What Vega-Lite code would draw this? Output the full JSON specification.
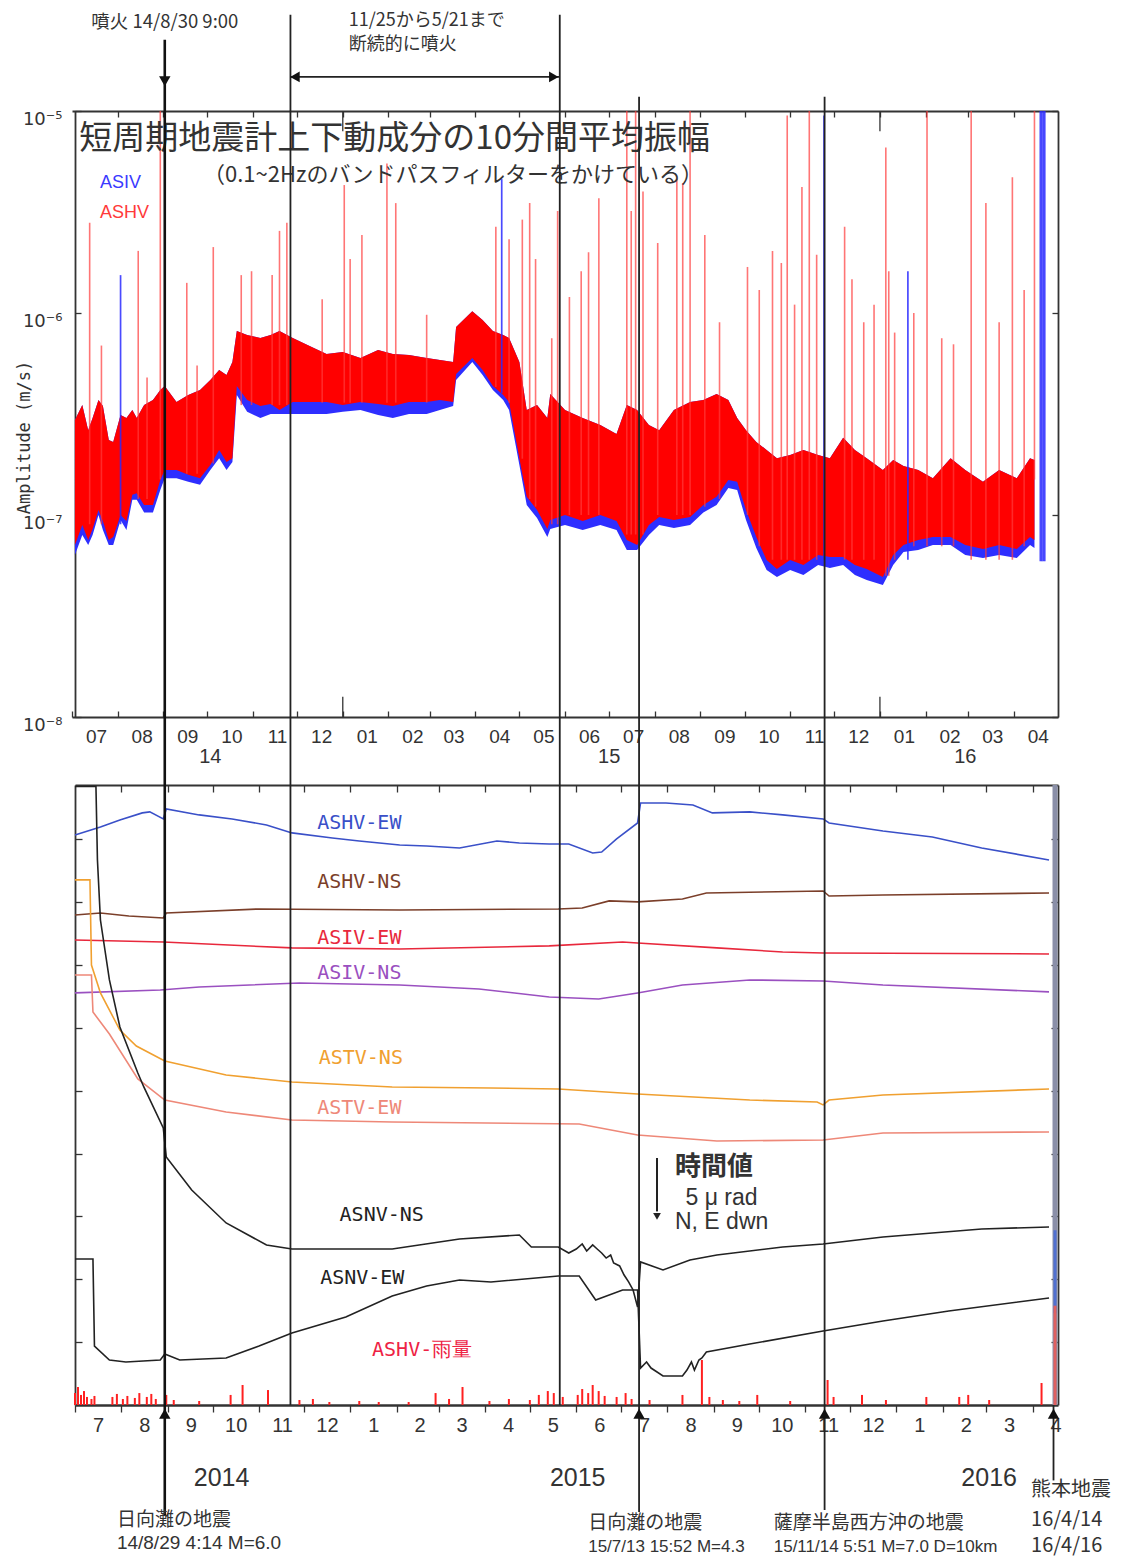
{
"$schema": "https://vega.github.io/schema/vega-lite/v6.json",
"width": 1134, "height": 1561,
"autosize": {"type": "none"},
"padding": 0,
"background": "white",
"config": {
  "view": {"stroke": null},
  "axis": {"grid": false, "labelFlush": false, "labelOverlap": false, "labelBound": false, "domainColor": "#333333", "tickColor": "#333333", "labelColor": "#333333", "domainWidth": 1.8, "tickWidth": 1.3, "zindex": 1}
},
"datasets": {
  "band": [
{"d":"2014-07-03","rhi":2.95e-7,"rlo":7.1e-8,"blo":6.34e-8},
{"d":"2014-07-08","rhi":3.5e-7,"rlo":8.92e-8,"blo":7.96e-8},
{"d":"2014-07-12","rhi":2.63e-7,"rlo":7.52e-8,"blo":7.1e-8},
{"d":"2014-07-15","rhi":3.02e-7,"rlo":8.53e-8,"blo":7.96e-8},
{"d":"2014-07-19","rhi":3.71e-7,"rlo":1.06e-7,"blo":1.0e-7},
{"d":"2014-07-22","rhi":3.46e-7,"rlo":9.34e-8,"blo":8.43e-8},
{"d":"2014-07-26","rhi":2.35e-7,"rlo":7.52e-8,"blo":7.1e-8},
{"d":"2014-07-29","rhi":2.3e-7,"rlo":7.78e-8,"blo":7.1e-8},
{"d":"2014-08-03","rhi":3.13e-7,"rlo":1.0e-7,"blo":9.45e-8},
{"d":"2014-08-07","rhi":3.02e-7,"rlo":9.34e-8,"blo":8.43e-8},
{"d":"2014-08-11","rhi":3.31e-7,"rlo":1.26e-7,"blo":1.19e-7},
{"d":"2014-08-14","rhi":3.02e-7,"rlo":1.28e-7,"blo":1.19e-7},
{"d":"2014-08-19","rhi":3.5e-7,"rlo":1.12e-7,"blo":1.03e-7},
{"d":"2014-08-25","rhi":3.71e-7,"rlo":1.12e-7,"blo":1.03e-7},
{"d":"2014-08-30","rhi":4.16e-7,"rlo":1.49e-7,"blo":1.33e-7},
{"d":"2014-09-02","rhi":4.35e-7,"rlo":1.67e-7,"blo":1.52e-7},
{"d":"2014-09-10","rhi":3.63e-7,"rlo":1.67e-7,"blo":1.52e-7},
{"d":"2014-09-18","rhi":3.93e-7,"rlo":1.58e-7,"blo":1.46e-7},
{"d":"2014-09-26","rhi":4.16e-7,"rlo":1.52e-7,"blo":1.41e-7},
{"d":"2014-10-03","rhi":4.66e-7,"rlo":1.77e-7,"blo":1.67e-7},
{"d":"2014-10-09","rhi":5.22e-7,"rlo":2.1e-7,"blo":1.91e-7},
{"d":"2014-10-14","rhi":4.93e-7,"rlo":1.83e-7,"blo":1.67e-7},
{"d":"2014-10-18","rhi":5.72e-7,"rlo":1.91e-7,"blo":1.83e-7},
{"d":"2014-10-21","rhi":8.14e-7,"rlo":4.35e-7,"blo":3.93e-7},
{"d":"2014-10-28","rhi":7.78e-7,"rlo":3.71e-7,"blo":3.24e-7},
{"d":"2014-11-06","rhi":7.52e-7,"rlo":3.46e-7,"blo":3.02e-7},
{"d":"2014-11-13","rhi":7.78e-7,"rlo":3.54e-7,"blo":3.16e-7},
{"d":"2014-11-19","rhi":8.14e-7,"rlo":3.31e-7,"blo":3.16e-7},
{"d":"2014-11-28","rhi":7.52e-7,"rlo":3.63e-7,"blo":3.16e-7},
{"d":"2014-12-08","rhi":6.94e-7,"rlo":3.63e-7,"blo":3.16e-7},
{"d":"2014-12-21","rhi":6.27e-7,"rlo":3.63e-7,"blo":3.16e-7},
{"d":"2015-01-01","rhi":6.41e-7,"rlo":3.5e-7,"blo":3.24e-7},
{"d":"2015-01-13","rhi":5.99e-7,"rlo":3.63e-7,"blo":3.31e-7},
{"d":"2015-01-25","rhi":6.56e-7,"rlo":3.54e-7,"blo":3.13e-7},
{"d":"2015-02-04","rhi":6.27e-7,"rlo":3.46e-7,"blo":3.02e-7},
{"d":"2015-02-15","rhi":6.2e-7,"rlo":3.63e-7,"blo":3.16e-7},
{"d":"2015-02-27","rhi":5.99e-7,"rlo":3.63e-7,"blo":3.16e-7},
{"d":"2015-03-08","rhi":5.85e-7,"rlo":3.71e-7,"blo":3.31e-7},
{"d":"2015-03-17","rhi":5.72e-7,"rlo":3.63e-7,"blo":3.46e-7},
{"d":"2015-03-19","rhi":8.52e-7,"rlo":4.99e-7,"blo":4.66e-7},
{"d":"2015-03-30","rhi":1.02e-6,"rlo":5.99e-7,"blo":5.72e-7},
{"d":"2015-04-06","rhi":9.23e-7,"rlo":5.22e-7,"blo":4.93e-7},
{"d":"2015-04-13","rhi":8.14e-7,"rlo":4.35e-7,"blo":4.16e-7},
{"d":"2015-04-20","rhi":7.78e-7,"rlo":3.93e-7,"blo":3.71e-7},
{"d":"2015-04-24","rhi":7.52e-7,"rlo":3.63e-7,"blo":3.31e-7},
{"d":"2015-05-01","rhi":5.72e-7,"rlo":1.91e-7,"blo":1.77e-7},
{"d":"2015-05-06","rhi":3.31e-7,"rlo":1.23e-7,"blo":1.12e-7},
{"d":"2015-05-13","rhi":3.5e-7,"rlo":1.06e-7,"blo":9.66e-8},
{"d":"2015-05-20","rhi":3.02e-7,"rlo":8.53e-8,"blo":7.78e-8},
{"d":"2015-05-22","rhi":3.97e-7,"rlo":9.45e-8,"blo":8.53e-8},
{"d":"2015-06-01","rhi":3.31e-7,"rlo":1.0e-7,"blo":8.92e-8},
{"d":"2015-06-13","rhi":3.02e-7,"rlo":9.34e-8,"blo":8.43e-8},
{"d":"2015-06-25","rhi":2.79e-7,"rlo":1.0e-7,"blo":8.92e-8},
{"d":"2015-07-06","rhi":2.52e-7,"rlo":9.34e-8,"blo":8.43e-8},
{"d":"2015-07-13","rhi":3.5e-7,"rlo":7.52e-8,"blo":6.71e-8},
{"d":"2015-07-20","rhi":3.31e-7,"rlo":7.1e-8,"blo":6.71e-8},
{"d":"2015-07-28","rhi":2.79e-7,"rlo":8.92e-8,"blo":7.96e-8},
{"d":"2015-08-04","rhi":2.63e-7,"rlo":9.77e-8,"blo":8.92e-8},
{"d":"2015-08-14","rhi":3.31e-7,"rlo":9.45e-8,"blo":8.62e-8},
{"d":"2015-08-25","rhi":3.63e-7,"rlo":9.77e-8,"blo":8.92e-8},
{"d":"2015-09-03","rhi":3.71e-7,"rlo":1.12e-7,"blo":1.03e-7},
{"d":"2015-09-12","rhi":3.97e-7,"rlo":1.23e-7,"blo":1.12e-7},
{"d":"2015-09-20","rhi":3.71e-7,"rlo":1.49e-7,"blo":1.36e-7},
{"d":"2015-09-26","rhi":3.02e-7,"rlo":1.46e-7,"blo":1.33e-7},
{"d":"2015-10-02","rhi":2.63e-7,"rlo":1.06e-7,"blo":9.45e-8},
{"d":"2015-10-09","rhi":2.3e-7,"rlo":7.78e-8,"blo":6.86e-8},
{"d":"2015-10-16","rhi":2.1e-7,"rlo":5.99e-8,"blo":5.34e-8},
{"d":"2015-10-23","rhi":1.91e-7,"rlo":5.4e-8,"blo":4.93e-8},
{"d":"2015-11-01","rhi":1.98e-7,"rlo":5.99e-8,"blo":5.34e-8},
{"d":"2015-11-10","rhi":2.1e-7,"rlo":5.65e-8,"blo":5.05e-8},
{"d":"2015-11-20","rhi":1.98e-7,"rlo":6.34e-8,"blo":5.65e-8},
{"d":"2015-11-28","rhi":1.91e-7,"rlo":6.2e-8,"blo":5.46e-8},
{"d":"2015-12-07","rhi":2.41e-7,"rlo":6.2e-8,"blo":5.65e-8},
{"d":"2015-12-15","rhi":2.1e-7,"rlo":5.65e-8,"blo":5.05e-8},
{"d":"2015-12-23","rhi":1.91e-7,"rlo":5.4e-8,"blo":4.77e-8},
{"d":"2016-01-03","rhi":1.67e-7,"rlo":4.93e-8,"blo":4.5e-8},
{"d":"2016-01-10","rhi":1.87e-7,"rlo":6.34e-8,"blo":5.65e-8},
{"d":"2016-01-17","rhi":1.75e-7,"rlo":7.1e-8,"blo":6.56e-8},
{"d":"2016-01-27","rhi":1.67e-7,"rlo":7.52e-8,"blo":6.71e-8},
{"d":"2016-02-06","rhi":1.52e-7,"rlo":7.78e-8,"blo":7.1e-8},
{"d":"2016-02-18","rhi":1.91e-7,"rlo":7.78e-8,"blo":7.1e-8},
{"d":"2016-02-28","rhi":1.67e-7,"rlo":7.1e-8,"blo":6.34e-8},
{"d":"2016-03-11","rhi":1.46e-7,"rlo":6.79e-8,"blo":6.12e-8},
{"d":"2016-03-22","rhi":1.67e-7,"rlo":7.1e-8,"blo":6.34e-8},
{"d":"2016-04-03","rhi":1.52e-7,"rlo":6.79e-8,"blo":6.12e-8},
{"d":"2016-04-12","rhi":1.91e-7,"rlo":7.78e-8,"blo":7.1e-8},
{"d":"2016-04-15","rhi":1.87e-7,"rlo":7.52e-8,"blo":6.86e-8}
  ],
  "spikesR": [
{"d":"2014-07-13","v":9e-8,"v2":2.8e-6},{"d":"2014-07-21","v":9e-8,"v2":6.9e-7},{"d":"2014-08-15","v":1.2e-7,"v2":2.03e-6},{"d":"2014-08-21","v":1.2e-7,"v2":4.8e-7},
{"d":"2014-08-30","v":1.5e-7,"v2":1e-5},{"d":"2014-09-17","v":1.6e-7,"v2":1.41e-6},{"d":"2014-09-24","v":1.6e-7,"v2":5.5e-7},{"d":"2014-10-05","v":1.8e-7,"v2":2.12e-6},
{"d":"2014-10-24","v":3.5e-7,"v2":1.54e-6},{"d":"2014-10-31","v":3.5e-7,"v2":1.61e-6},{"d":"2014-11-14","v":3.5e-7,"v2":1.54e-6},{"d":"2014-11-19","v":3.5e-7,"v2":2.55e-6},{"d":"2014-11-24","v":3.5e-7,"v2":2.8e-6},
{"d":"2014-12-18","v":3.6e-7,"v2":1.17e-6},{"d":"2015-01-02","v":3.6e-7,"v2":4.3e-6},{"d":"2015-01-06","v":3.6e-7,"v2":1.85e-6},{"d":"2015-01-14","v":3.6e-7,"v2":2.43e-6},
{"d":"2015-01-31","v":3.6e-7,"v2":5.5e-6},{"d":"2015-02-06","v":3.6e-7,"v2":3.5e-6},{"d":"2015-02-27","v":3.6e-7,"v2":9.8e-7},{"d":"2015-04-15","v":4.3e-7,"v2":2.67e-6},
{"d":"2015-04-24","v":3.6e-7,"v2":2.32e-6},{"d":"2015-05-03","v":1.9e-7,"v2":2.9e-6},{"d":"2015-05-08","v":1.2e-7,"v2":3.5e-6},{"d":"2015-05-12","v":1.1e-7,"v2":1.85e-6},
{"d":"2015-05-23","v":9e-8,"v2":7.5e-7},{"d":"2015-05-27","v":9e-8,"v2":3.2e-6},{"d":"2015-06-04","v":1e-7,"v2":1.2e-6},{"d":"2015-06-12","v":1e-7,"v2":1.61e-6},
{"d":"2015-06-17","v":1e-7,"v2":2e-6},{"d":"2015-06-24","v":1e-7,"v2":3.7e-6},{"d":"2015-07-13","v":8e-8,"v2":1e-5},{"d":"2015-07-16","v":8e-8,"v2":3.2e-6},
{"d":"2015-07-19","v":8e-8,"v2":1e-5},{"d":"2015-07-24","v":8e-8,"v2":4e-6},{"d":"2015-08-03","v":1e-7,"v2":2.22e-6},{"d":"2015-08-16","v":1e-7,"v2":4.6e-6},
{"d":"2015-08-20","v":1e-7,"v2":4.4e-6},{"d":"2015-08-25","v":1e-7,"v2":1e-5},{"d":"2015-09-04","v":1.1e-7,"v2":2.43e-6},{"d":"2015-09-14","v":1.2e-7,"v2":9e-7},
{"d":"2015-10-03","v":1e-7,"v2":1.69e-6},{"d":"2015-10-11","v":7e-8,"v2":1.3e-6},{"d":"2015-10-20","v":6e-8,"v2":2.03e-6},{"d":"2015-10-26","v":6e-8,"v2":1.77e-6},
{"d":"2015-10-30","v":6e-8,"v2":9.5e-6},{"d":"2015-11-04","v":6e-8,"v2":1.1e-6},{"d":"2015-11-09","v":6e-8,"v2":4.2e-6},{"d":"2015-11-14","v":6e-8,"v2":1e-5},
{"d":"2015-11-19","v":6e-8,"v2":1.94e-6},{"d":"2015-12-08","v":6e-8,"v2":2.67e-6},{"d":"2015-12-13","v":6e-8,"v2":1.47e-6},{"d":"2015-12-21","v":6e-8,"v2":9e-7},
{"d":"2015-12-28","v":6e-8,"v2":1.1e-6},{"d":"2016-01-05","v":5e-8,"v2":6.6e-6},{"d":"2016-01-07","v":5e-8,"v2":1.61e-6},{"d":"2016-01-11","v":6e-8,"v2":8e-7},
{"d":"2016-01-24","v":7e-8,"v2":1e-6},{"d":"2016-02-02","v":7e-8,"v2":1e-5},{"d":"2016-02-12","v":7e-8,"v2":7.5e-7},{"d":"2016-02-20","v":7e-8,"v2":7e-7},
{"d":"2016-03-03","v":6e-8,"v2":1e-5},{"d":"2016-03-13","v":6e-8,"v2":3.5e-6},{"d":"2016-03-22","v":6e-8,"v2":9e-7},{"d":"2016-03-31","v":6e-8,"v2":4.7e-6},
{"d":"2016-04-08","v":7e-8,"v2":1.3e-6},{"d":"2016-04-15","v":1.5e-7,"v2":1e-5}
  ],
  "spikesB": [
{"d":"2014-08-03","v":9e-8,"v2":1.54e-6},{"d":"2015-04-19","v":4e-7,"v2":4.6e-6},{"d":"2015-11-24","v":6e-8,"v2":9.5e-6},{"d":"2016-01-20","v":6e-8,"v2":1.61e-6},
{"d":"2016-04-19","v":5.9e-8,"v2":1e-5},{"d":"2016-04-20","v":5.9e-8,"v2":1e-5},{"d":"2016-04-21","v":5.9e-8,"v2":1e-5},{"d":"2016-04-22","v":5.9e-8,"v2":1e-5}
  ],
  "series": [
{"s":"ASHV-EW","d":"2014-07-01","v":45.35},{"s":"ASHV-EW","d":"2014-07-18","v":45.98},{"s":"ASHV-EW","d":"2014-07-31","v":46.54},{"s":"ASHV-EW","d":"2014-08-15","v":47.10},
{"s":"ASHV-EW","d":"2014-08-20","v":47.18},{"s":"ASHV-EW","d":"2014-08-29","v":46.62},{"s":"ASHV-EW","d":"2014-08-31","v":47.41},{"s":"ASHV-EW","d":"2014-09-22","v":46.94},
{"s":"ASHV-EW","d":"2014-10-14","v":46.62},{"s":"ASHV-EW","d":"2014-11-06","v":46.14},{"s":"ASHV-EW","d":"2014-11-23","v":45.51},{"s":"ASHV-EW","d":"2014-12-20","v":45.11},
{"s":"ASHV-EW","d":"2015-01-07","v":44.87},{"s":"ASHV-EW","d":"2015-02-03","v":44.55},{"s":"ASHV-EW","d":"2015-02-21","v":44.47},{"s":"ASHV-EW","d":"2015-03-15","v":44.31},
{"s":"ASHV-EW","d":"2015-04-09","v":44.87},{"s":"ASHV-EW","d":"2015-04-24","v":44.71},{"s":"ASHV-EW","d":"2015-05-14","v":44.63},{"s":"ASHV-EW","d":"2015-05-27","v":44.63},
{"s":"ASHV-EW","d":"2015-06-12","v":43.91},{"s":"ASHV-EW","d":"2015-06-18","v":43.99},{"s":"ASHV-EW","d":"2015-06-28","v":45.03},{"s":"ASHV-EW","d":"2015-07-12","v":46.30},
{"s":"ASHV-EW","d":"2015-07-14","v":47.89},{"s":"ASHV-EW","d":"2015-07-31","v":47.89},{"s":"ASHV-EW","d":"2015-08-18","v":47.73},{"s":"ASHV-EW","d":"2015-08-31","v":47.10},
{"s":"ASHV-EW","d":"2015-09-25","v":47.18},{"s":"ASHV-EW","d":"2015-10-17","v":46.94},{"s":"ASHV-EW","d":"2015-11-13","v":46.62},{"s":"ASHV-EW","d":"2015-11-17","v":46.30},
{"s":"ASHV-EW","d":"2015-12-23","v":45.66},{"s":"ASHV-EW","d":"2016-01-25","v":45.19},{"s":"ASHV-EW","d":"2016-02-27","v":44.31},{"s":"ASHV-EW","d":"2016-04-12","v":43.36},
{"s":"ASHV-NS","d":"2014-07-01","v":38.98},{"s":"ASHV-NS","d":"2014-07-18","v":39.14},{"s":"ASHV-NS","d":"2014-08-06","v":38.90},{"s":"ASHV-NS","d":"2014-08-29","v":38.74},
{"s":"ASHV-NS","d":"2014-08-31","v":39.14},{"s":"ASHV-NS","d":"2014-11-01","v":39.46},{"s":"ASHV-NS","d":"2015-02-03","v":39.38},{"s":"ASHV-NS","d":"2015-05-20","v":39.46},
{"s":"ASHV-NS","d":"2015-06-05","v":39.54},{"s":"ASHV-NS","d":"2015-06-23","v":40.10},{"s":"ASHV-NS","d":"2015-07-12","v":40.02},{"s":"ASHV-NS","d":"2015-08-11","v":40.25},
{"s":"ASHV-NS","d":"2015-08-27","v":40.73},{"s":"ASHV-NS","d":"2015-11-13","v":40.89},{"s":"ASHV-NS","d":"2015-11-17","v":40.49},{"s":"ASHV-NS","d":"2015-12-23","v":40.57},
{"s":"ASHV-NS","d":"2016-04-12","v":40.73},
{"s":"ASIV-EW","d":"2014-07-01","v":36.99},{"s":"ASIV-EW","d":"2014-08-29","v":36.83},{"s":"ASIV-EW","d":"2014-11-23","v":36.36},{"s":"ASIV-EW","d":"2015-02-03","v":36.28},
{"s":"ASIV-EW","d":"2015-05-14","v":36.52},{"s":"ASIV-EW","d":"2015-07-02","v":36.83},{"s":"ASIV-EW","d":"2015-07-12","v":36.75},{"s":"ASIV-EW","d":"2015-09-03","v":36.36},
{"s":"ASIV-EW","d":"2015-10-17","v":36.04},{"s":"ASIV-EW","d":"2015-11-13","v":35.96},{"s":"ASIV-EW","d":"2016-04-12","v":35.88},
{"s":"ASIV-NS","d":"2014-07-01","v":32.78},{"s":"ASIV-NS","d":"2014-08-27","v":33.01},{"s":"ASIV-NS","d":"2014-09-22","v":33.25},{"s":"ASIV-NS","d":"2014-11-28","v":33.57},
{"s":"ASIV-NS","d":"2015-02-03","v":33.41},{"s":"ASIV-NS","d":"2015-03-28","v":33.09},{"s":"ASIV-NS","d":"2015-05-14","v":32.46},{"s":"ASIV-NS","d":"2015-06-16","v":32.30},
{"s":"ASIV-NS","d":"2015-07-12","v":32.78},{"s":"ASIV-NS","d":"2015-08-11","v":33.41},{"s":"ASIV-NS","d":"2015-09-25","v":33.81},{"s":"ASIV-NS","d":"2015-11-13","v":33.73},
{"s":"ASIV-NS","d":"2015-12-23","v":33.41},{"s":"ASIV-NS","d":"2016-04-12","v":32.86},
{"s":"ASTV-NS","d":"2014-07-01","v":41.77},{"s":"ASTV-NS","d":"2014-07-11","v":41.77},{"s":"ASTV-NS","d":"2014-07-12","v":35.0},{"s":"ASTV-NS","d":"2014-07-18","v":32.78},
{"s":"ASTV-NS","d":"2014-07-31","v":29.83},{"s":"ASTV-NS","d":"2014-08-11","v":28.56},{"s":"ASTV-NS","d":"2014-08-30","v":27.37},{"s":"ASTV-NS","d":"2014-10-10","v":26.25},
{"s":"ASTV-NS","d":"2014-11-23","v":25.70},{"s":"ASTV-NS","d":"2015-01-29","v":25.30},{"s":"ASTV-NS","d":"2015-04-05","v":25.22},{"s":"ASTV-NS","d":"2015-05-20","v":25.14},
{"s":"ASTV-NS","d":"2015-07-12","v":24.74},{"s":"ASTV-NS","d":"2015-09-25","v":24.26},{"s":"ASTV-NS","d":"2015-11-09","v":24.10},{"s":"ASTV-NS","d":"2015-11-13","v":23.87},
{"s":"ASTV-NS","d":"2015-11-17","v":24.26},{"s":"ASTV-NS","d":"2015-12-23","v":24.66},{"s":"ASTV-NS","d":"2016-04-12","v":25.14},
{"s":"ASTV-EW","d":"2014-07-01","v":34.21},{"s":"ASTV-EW","d":"2014-07-12","v":34.21},{"s":"ASTV-EW","d":"2014-07-13","v":31.26},{"s":"ASTV-EW","d":"2014-07-24","v":29.51},
{"s":"ASTV-EW","d":"2014-08-12","v":25.94},{"s":"ASTV-EW","d":"2014-08-30","v":24.26},{"s":"ASTV-EW","d":"2014-10-10","v":23.31},{"s":"ASTV-EW","d":"2014-11-23","v":22.67},
{"s":"ASTV-EW","d":"2015-01-29","v":22.51},{"s":"ASTV-EW","d":"2015-06-03","v":22.35},{"s":"ASTV-EW","d":"2015-07-12","v":21.48},{"s":"ASTV-EW","d":"2015-09-03","v":21.00},
{"s":"ASTV-EW","d":"2015-11-13","v":21.08},{"s":"ASTV-EW","d":"2015-12-23","v":21.64},{"s":"ASTV-EW","d":"2016-04-12","v":21.72},
{"s":"ASNV-NS","d":"2014-07-01","v":49.2},{"s":"ASNV-NS","d":"2014-07-15","v":49.2},{"s":"ASNV-NS","d":"2014-07-16","v":43.36},{"s":"ASNV-NS","d":"2014-07-18","v":38.58},
{"s":"ASNV-NS","d":"2014-07-24","v":33.81},{"s":"ASNV-NS","d":"2014-07-31","v":30.07},{"s":"ASNV-NS","d":"2014-08-12","v":26.41},{"s":"ASNV-NS","d":"2014-08-16","v":25.30},
{"s":"ASNV-NS","d":"2014-08-29","v":22.04},{"s":"ASNV-NS","d":"2014-08-31","v":19.73},{"s":"ASNV-NS","d":"2014-09-17","v":17.10},{"s":"ASNV-NS","d":"2014-10-10","v":14.48},
{"s":"ASNV-NS","d":"2014-11-06","v":12.73},{"s":"ASNV-NS","d":"2014-11-23","v":12.41},{"s":"ASNV-NS","d":"2015-01-29","v":12.41},{"s":"ASNV-NS","d":"2015-03-15","v":13.21},
{"s":"ASNV-NS","d":"2015-04-24","v":13.52},{"s":"ASNV-NS","d":"2015-05-02","v":12.57},{"s":"ASNV-NS","d":"2015-05-20","v":12.57},{"s":"ASNV-NS","d":"2015-05-27","v":12.09},
{"s":"ASNV-NS","d":"2015-06-01","v":12.41},{"s":"ASNV-NS","d":"2015-06-05","v":12.81},{"s":"ASNV-NS","d":"2015-06-08","v":12.25},{"s":"ASNV-NS","d":"2015-06-12","v":12.73},
{"s":"ASNV-NS","d":"2015-06-15","v":12.41},{"s":"ASNV-NS","d":"2015-06-18","v":12.09},{"s":"ASNV-NS","d":"2015-06-21","v":11.69},{"s":"ASNV-NS","d":"2015-06-24","v":11.93},
{"s":"ASNV-NS","d":"2015-06-26","v":11.30},{"s":"ASNV-NS","d":"2015-06-30","v":11.06},{"s":"ASNV-NS","d":"2015-07-03","v":10.34},{"s":"ASNV-NS","d":"2015-07-06","v":9.79},
{"s":"ASNV-NS","d":"2015-07-09","v":9.15},{"s":"ASNV-NS","d":"2015-07-12","v":7.80},{"s":"ASNV-NS","d":"2015-07-14","v":11.38},{"s":"ASNV-NS","d":"2015-07-29","v":10.74},
{"s":"ASNV-NS","d":"2015-08-16","v":11.54},{"s":"ASNV-NS","d":"2015-09-03","v":11.93},{"s":"ASNV-NS","d":"2015-10-17","v":12.57},{"s":"ASNV-NS","d":"2015-11-13","v":12.81},
{"s":"ASNV-NS","d":"2015-12-23","v":13.37},{"s":"ASNV-NS","d":"2016-02-27","v":14.00},{"s":"ASNV-NS","d":"2016-04-12","v":14.16},
{"s":"ASNV-EW","d":"2014-07-01","v":11.61},{"s":"ASNV-EW","d":"2014-07-13","v":11.61},{"s":"ASNV-EW","d":"2014-07-14","v":4.69},{"s":"ASNV-EW","d":"2014-07-24","v":3.58},
{"s":"ASNV-EW","d":"2014-08-04","v":3.42},{"s":"ASNV-EW","d":"2014-08-27","v":3.58},{"s":"ASNV-EW","d":"2014-08-30","v":4.06},{"s":"ASNV-EW","d":"2014-09-09","v":3.58},
{"s":"ASNV-EW","d":"2014-10-10","v":3.74},{"s":"ASNV-EW","d":"2014-11-01","v":4.69},{"s":"ASNV-EW","d":"2014-11-23","v":5.73},{"s":"ASNV-EW","d":"2014-12-29","v":7.00},
{"s":"ASNV-EW","d":"2015-01-29","v":8.67},{"s":"ASNV-EW","d":"2015-02-21","v":9.47},{"s":"ASNV-EW","d":"2015-03-15","v":9.94},{"s":"ASNV-EW","d":"2015-04-05","v":9.79},
{"s":"ASNV-EW","d":"2015-05-20","v":10.26},{"s":"ASNV-EW","d":"2015-06-03","v":10.26},{"s":"ASNV-EW","d":"2015-06-14","v":8.35},{"s":"ASNV-EW","d":"2015-07-02","v":9.15},
{"s":"ASNV-EW","d":"2015-07-12","v":9.15},{"s":"ASNV-EW","d":"2015-07-14","v":2.94},{"s":"ASNV-EW","d":"2015-07-18","v":3.42},{"s":"ASNV-EW","d":"2015-07-21","v":2.94},
{"s":"ASNV-EW","d":"2015-07-29","v":2.31},{"s":"ASNV-EW","d":"2015-08-11","v":2.31},{"s":"ASNV-EW","d":"2015-08-14","v":2.78},{"s":"ASNV-EW","d":"2015-08-17","v":3.42},
{"s":"ASNV-EW","d":"2015-08-19","v":2.78},{"s":"ASNV-EW","d":"2015-08-22","v":3.58},{"s":"ASNV-EW","d":"2015-08-24","v":3.74},{"s":"ASNV-EW","d":"2015-08-27","v":4.22},
{"s":"ASNV-EW","d":"2015-09-25","v":4.85},{"s":"ASNV-EW","d":"2015-11-13","v":5.89},{"s":"ASNV-EW","d":"2015-12-23","v":6.68},{"s":"ASNV-EW","d":"2016-02-05","v":7.48},
{"s":"ASNV-EW","d":"2016-04-12","v":8.51}
  ],
  "rain": [
{"d":"2014-07-01","v":0.95},{"d":"2014-07-03","v":1.43},{"d":"2014-07-05","v":0.80},{"d":"2014-07-07","v":1.11},{"d":"2014-07-09","v":0.64},{"d":"2014-07-12","v":0.48},
{"d":"2014-07-14","v":0.72},{"d":"2014-07-26","v":0.64},{"d":"2014-07-29","v":0.88},{"d":"2014-08-02","v":0.48},{"d":"2014-08-05","v":0.72},{"d":"2014-08-10","v":0.56},
{"d":"2014-08-13","v":0.95},{"d":"2014-08-18","v":0.64},{"d":"2014-08-21","v":0.88},{"d":"2014-08-24","v":0.48},{"d":"2014-08-31","v":0.80},{"d":"2014-09-05","v":0.40},
{"d":"2014-09-22","v":0.32},{"d":"2014-10-13","v":0.80},{"d":"2014-10-21","v":1.59},{"d":"2014-11-07","v":1.19},{"d":"2014-11-28","v":0.40},{"d":"2014-12-07","v":0.48},
{"d":"2014-12-18","v":0.24},{"d":"2015-01-07","v":0.32},{"d":"2015-01-20","v":0.24},{"d":"2015-02-09","v":0.24},{"d":"2015-02-27","v":0.95},{"d":"2015-03-08","v":0.48},
{"d":"2015-03-17","v":1.43},{"d":"2015-04-04","v":0.32},{"d":"2015-04-17","v":0.48},{"d":"2015-05-01","v":0.40},{"d":"2015-05-07","v":0.80},{"d":"2015-05-13","v":1.11},
{"d":"2015-05-17","v":0.95},{"d":"2015-05-23","v":0.64},{"d":"2015-06-02","v":0.80},{"d":"2015-06-05","v":1.27},{"d":"2015-06-09","v":0.95},{"d":"2015-06-12","v":1.59},
{"d":"2015-06-16","v":1.11},{"d":"2015-06-20","v":0.72},{"d":"2015-06-28","v":0.64},{"d":"2015-07-04","v":0.95},{"d":"2015-07-08","v":0.48},{"d":"2015-07-20","v":0.40},
{"d":"2015-08-11","v":0.80},{"d":"2015-08-24","v":3.58},{"d":"2015-08-29","v":0.64},{"d":"2015-09-07","v":0.40},{"d":"2015-09-18","v":0.32},{"d":"2015-09-30","v":0.80},
{"d":"2015-10-22","v":0.32},{"d":"2015-11-16","v":1.99},{"d":"2015-11-20","v":0.64},{"d":"2015-12-09","v":0.80},{"d":"2015-12-25","v":0.40},{"d":"2016-01-21","v":0.64},
{"d":"2016-02-12","v":0.64},{"d":"2016-02-18","v":0.80},{"d":"2016-03-03","v":0.40},{"d":"2016-04-07","v":1.75}
  ]
},
"layer": [
 {
  "encoding": {
    "x": {"field": "d", "type": "temporal", "scale": {"type": "utc", "domain": [{"year":2014,"month":7,"date":1,"utc":true},{"year":2016,"month":5,"date":1,"utc":true}], "range": [72, 1058]}, "axis": null},
    "y": {"field": "v", "type": "quantitative", "scale": {"type": "log", "domain": [1e-8, 1e-5], "range": [717, 111]}, "axis": null}
  },
  "layer": [
   {"data": {"name": "band"}, "mark": {"type": "area", "color": "#2e2eff"},
    "encoding": {
      "x": {"field": "d", "type": "temporal", "scale": {"type": "utc", "domain": [{"year":2014,"month":7,"date":1,"utc":true},{"year":2016,"month":5,"date":1,"utc":true}], "range": [72, 1058]},
            "axis": {"orient": "bottom", "offset": -844, "values": [{"year":2014,"month":7,"date":1,"utc":true},{"year":2014,"month":8,"date":1,"utc":true},{"year":2014,"month":9,"date":1,"utc":true},{"year":2014,"month":10,"date":1,"utc":true},{"year":2014,"month":11,"date":1,"utc":true},{"year":2014,"month":12,"date":1,"utc":true},{"year":2015,"month":1,"date":1,"utc":true},{"year":2015,"month":2,"date":1,"utc":true},{"year":2015,"month":3,"date":1,"utc":true},{"year":2015,"month":4,"date":1,"utc":true},{"year":2015,"month":5,"date":1,"utc":true},{"year":2015,"month":6,"date":1,"utc":true},{"year":2015,"month":7,"date":1,"utc":true},{"year":2015,"month":8,"date":1,"utc":true},{"year":2015,"month":9,"date":1,"utc":true},{"year":2015,"month":10,"date":1,"utc":true},{"year":2015,"month":11,"date":1,"utc":true},{"year":2015,"month":12,"date":1,"utc":true},{"year":2016,"month":1,"date":1,"utc":true},{"year":2016,"month":2,"date":1,"utc":true},{"year":2016,"month":3,"date":1,"utc":true},{"year":2016,"month":4,"date":1,"utc":true}],
                     "labelExpr": "utcFormat(datum.value, '%m')", "tickSize": -6, "labelPadding": 16, "labelOffset": 24, "labelFontSize": 19, "labelFont": "Liberation Sans", "title": null}},
      "y": {"field": "blo", "type": "quantitative", "scale": {"type": "log", "domain": [1e-8, 1e-5], "range": [717, 111]},
            "axis": {"orient": "left", "offset": -75, "values": [1e-8, 1e-7, 1e-6, 1e-5],
                     "labelExpr": "datum.value > 5e-6 ? '10⁻⁵' : datum.value > 5e-7 ? '10⁻⁶' : datum.value > 5e-8 ? '10⁻⁷' : '10⁻⁸'",
                     "tickSize": -6, "labelPadding": 19, "labelOffset": 8, "labelFontSize": 18, "labelFont": "DejaVu Sans",
                     "title": "Amplitude (m/s)", "titleFont": "DejaVu Sans Mono", "titleFontSize": 17, "titleFontWeight": "normal", "titleColor": "#333333",
                     "titleX": -51, "titleY": 437, "titleAngle": -90, "titleAlign": "center", "titleBaseline": "middle"}},
      "y2": {"field": "rhi"}
    }},
   {"data": {"name": "band"}, "mark": {"type": "area", "color": "#ff0000"},
    "encoding": {
      "x": {"field": "d", "type": "temporal", "scale": {"type": "utc", "domain": [{"year":2014,"month":7,"date":1,"utc":true},{"year":2016,"month":5,"date":1,"utc":true}], "range": [72, 1058]},
            "axis": {"orient": "top", "offset": -111, "values": [{"year":2014,"month":8,"date":1,"utc":true},{"year":2014,"month":9,"date":1,"utc":true},{"year":2014,"month":10,"date":1,"utc":true},{"year":2014,"month":11,"date":1,"utc":true},{"year":2014,"month":12,"date":1,"utc":true},{"year":2015,"month":1,"date":1,"utc":true},{"year":2015,"month":2,"date":1,"utc":true},{"year":2015,"month":3,"date":1,"utc":true},{"year":2015,"month":4,"date":1,"utc":true},{"year":2015,"month":5,"date":1,"utc":true},{"year":2015,"month":6,"date":1,"utc":true},{"year":2015,"month":7,"date":1,"utc":true},{"year":2015,"month":8,"date":1,"utc":true},{"year":2015,"month":9,"date":1,"utc":true},{"year":2015,"month":10,"date":1,"utc":true},{"year":2015,"month":11,"date":1,"utc":true},{"year":2015,"month":12,"date":1,"utc":true},{"year":2016,"month":1,"date":1,"utc":true},{"year":2016,"month":2,"date":1,"utc":true},{"year":2016,"month":3,"date":1,"utc":true},{"year":2016,"month":4,"date":1,"utc":true}],
                     "labels": false, "tickSize": -6, "title": null}},
      "y": {"field": "rlo", "type": "quantitative", "scale": {"type": "log", "domain": [1e-8, 1e-5], "range": [717, 111]},
            "axis": {"orient": "right", "offset": -76, "values": [1e-8, 1e-7, 1e-6, 1e-5], "labels": false, "tickSize": -6, "title": null}},
      "y2": {"field": "rhi"}
    }},
   {"data": {"name": "spikesR"}, "mark": {"type": "rule", "color": "#ff3a3a", "strokeWidth": 1.6, "opacity": 0.7},
    "encoding": {"y2": {"field": "v2"}}},
   {"data": {"name": "spikesB"}, "mark": {"type": "rule", "color": "#2a2aff", "strokeWidth": 1.7, "opacity": 0.85},
    "encoding": {"y2": {"field": "v2"}}},
   {"data": {"values": [{"d":"2015-01-01","v":1e-8,"v2":1.26e-8},{"d":"2015-01-01","v":7.94e-6,"v2":1e-5},{"d":"2016-01-01","v":1e-8,"v2":1.26e-8},{"d":"2016-01-01","v":7.94e-6,"v2":1e-5}]},
    "mark": {"type": "rule", "color": "#333333", "strokeWidth": 1.3},
    "encoding": {"y2": {"field": "v2"}}},
   {"data": {"values": [{"d":"2014-07-06","v":7.27e-6,"txt":"短周期地震計上下動成分の10分間平均振幅"}]},
    "mark": {"type": "text", "font": "Noto Sans CJK JP", "fontSize": 33, "color": "#333333", "align": "left", "baseline": "middle"},
    "encoding": {"text": {"field": "txt"}}},
   {"data": {"values": [{"d":"2014-09-28","v":4.82e-6,"txt":"（0.1~2Hzのバンドパスフィルターをかけている）"}]},
    "mark": {"type": "text", "font": "Noto Sans CJK JP", "fontSize": 22, "color": "#333333", "align": "left", "baseline": "middle"},
    "encoding": {"text": {"field": "txt"}}},
   {"data": {"values": [{"d":"2014-07-20","v":4.38e-6,"txt":"ASIV"}]},
    "mark": {"type": "text", "font": "Liberation Sans", "fontSize": 18, "color": "#3a3aff", "align": "left", "baseline": "middle"},
    "encoding": {"text": {"field": "txt"}}},
   {"data": {"values": [{"d":"2014-07-20","v":3.13e-6,"txt":"ASHV"}]},
    "mark": {"type": "text", "font": "Liberation Sans", "fontSize": 18, "color": "#ff3a3a", "align": "left", "baseline": "middle"},
    "encoding": {"text": {"field": "txt"}}},
   {"data": {"values": [{"d":"2014-10-03","v":6.34e-9,"txt":"14"},{"d":"2015-07-01","v":6.34e-9,"txt":"15"},{"d":"2016-02-28","v":6.34e-9,"txt":"16"}]},
    "mark": {"type": "text", "font": "Liberation Sans", "fontSize": 20, "color": "#333333", "align": "center", "baseline": "middle"},
    "encoding": {"text": {"field": "txt"}}}
  ],
  "resolve": {"axis": {"x": "independent", "y": "independent"}}
 },
 {
  "encoding": {
    "x": {"field": "d", "type": "temporal", "scale": {"type": "utc", "domain": [{"year":2014,"month":7,"date":1,"utc":true},{"year":2016,"month":4,"date":18,"utc":true}], "range": [75, 1058]}, "axis": null},
    "y": {"field": "v", "type": "quantitative", "scale": {"type": "linear", "domain": [0, 49.32], "range": [1405, 785]}, "axis": null}
  },
  "layer": [
   {"data": {"name": "series"}, "mark": {"type": "line", "strokeWidth": 1.6},
    "encoding": {
      "x": {"field": "d", "type": "temporal", "scale": {"type": "utc", "domain": [{"year":2014,"month":7,"date":1,"utc":true},{"year":2016,"month":4,"date":18,"utc":true}], "range": [75, 1058]},
            "axis": {"orient": "bottom", "offset": -156, "values": [{"year":2014,"month":7,"date":1,"utc":true},{"year":2014,"month":8,"date":1,"utc":true},{"year":2014,"month":9,"date":1,"utc":true},{"year":2014,"month":10,"date":1,"utc":true},{"year":2014,"month":11,"date":1,"utc":true},{"year":2014,"month":12,"date":1,"utc":true},{"year":2015,"month":1,"date":1,"utc":true},{"year":2015,"month":2,"date":1,"utc":true},{"year":2015,"month":3,"date":1,"utc":true},{"year":2015,"month":4,"date":1,"utc":true},{"year":2015,"month":5,"date":1,"utc":true},{"year":2015,"month":6,"date":1,"utc":true},{"year":2015,"month":7,"date":1,"utc":true},{"year":2015,"month":8,"date":1,"utc":true},{"year":2015,"month":9,"date":1,"utc":true},{"year":2015,"month":10,"date":1,"utc":true},{"year":2015,"month":11,"date":1,"utc":true},{"year":2015,"month":12,"date":1,"utc":true},{"year":2016,"month":1,"date":1,"utc":true},{"year":2016,"month":2,"date":1,"utc":true},{"year":2016,"month":3,"date":1,"utc":true},{"year":2016,"month":4,"date":1,"utc":true}],
                     "labelExpr": "utcFormat(datum.value, '%-m')", "tickSize": 7, "labelPadding": 3, "labelOffset": 23, "labelFontSize": 20, "labelFont": "Liberation Sans", "domainWidth": 2.5, "title": null}},
      "y": {"field": "v", "type": "quantitative", "scale": {"type": "linear", "domain": [0, 49.32], "range": [1405, 785]},
            "axis": {"orient": "left", "offset": -75, "values": [5,10,15,20,25,30,35,40,45], "labels": false, "tickSize": -7, "title": null}},
      "color": {"field": "s", "type": "nominal", "legend": null,
                "scale": {"domain": ["ASHV-EW","ASHV-NS","ASIV-EW","ASIV-NS","ASTV-NS","ASTV-EW","ASNV-NS","ASNV-EW","ASHV-雨量"],
                          "range": ["#3a50c8","#7b3f2a","#e8283c","#9a50c0","#f0a030","#ee8878","#222222","#222222","#ee2244"]}}
    }},
   {"data": {"name": "rain"}, "mark": {"type": "rule", "color": "#ff2020", "strokeWidth": 2},
    "encoding": {
      "x": {"field": "d", "type": "temporal", "scale": {"type": "utc", "domain": [{"year":2014,"month":7,"date":1,"utc":true},{"year":2016,"month":4,"date":18,"utc":true}], "range": [75, 1058]},
            "axis": {"orient": "top", "offset": -785, "values": [{"year":2014,"month":8,"date":1,"utc":true},{"year":2014,"month":9,"date":1,"utc":true},{"year":2014,"month":10,"date":1,"utc":true},{"year":2014,"month":11,"date":1,"utc":true},{"year":2014,"month":12,"date":1,"utc":true},{"year":2015,"month":1,"date":1,"utc":true},{"year":2015,"month":2,"date":1,"utc":true},{"year":2015,"month":3,"date":1,"utc":true},{"year":2015,"month":4,"date":1,"utc":true},{"year":2015,"month":5,"date":1,"utc":true},{"year":2015,"month":6,"date":1,"utc":true},{"year":2015,"month":7,"date":1,"utc":true},{"year":2015,"month":8,"date":1,"utc":true},{"year":2015,"month":9,"date":1,"utc":true},{"year":2015,"month":10,"date":1,"utc":true},{"year":2015,"month":11,"date":1,"utc":true},{"year":2015,"month":12,"date":1,"utc":true},{"year":2016,"month":1,"date":1,"utc":true},{"year":2016,"month":2,"date":1,"utc":true},{"year":2016,"month":3,"date":1,"utc":true},{"year":2016,"month":4,"date":1,"utc":true}],
                     "labels": false, "tickSize": -7, "title": null}},
      "y": {"field": "v", "type": "quantitative", "scale": {"type": "linear", "domain": [0, 49.32], "range": [1405, 785]},
            "axis": {"orient": "right", "offset": -76, "values": [5,10,15,20,25,30,35,40,45], "labels": false, "tickSize": -7, "title": null}},
      "y2": {"datum": 0}
    }},
   {"data": {"values": [{"d":"2016-04-16","v":0,"v2":49.32}]}, "mark": {"type": "rule", "color": "#8a8fa8", "strokeWidth": 5},
    "encoding": {"y2": {"field": "v2"}}},
   {"data": {"values": [{"d":"2016-04-16","v":7.3,"v2":13.9}]}, "mark": {"type": "rule", "color": "#5070d0", "strokeWidth": 3},
    "encoding": {"y2": {"field": "v2"}}},
   {"data": {"values": [{"d":"2016-04-16","v":0,"v2":7.9}]}, "mark": {"type": "rule", "color": "#e06060", "strokeWidth": 3},
    "encoding": {"y2": {"field": "v2"}}},
   {"data": {"values": [{"d":"2014-11-22","v":110.6,"v2":0},{"d":"2015-05-21","v":110.6,"v2":0},{"d":"2015-07-13","v":104.06,"v2":-8.51},{"d":"2015-11-14","v":104.06,"v2":-8.35},{"d":"2016-04-15","v":0,"v2":-6.0}]},
    "mark": {"type": "rule", "color": "#222222", "strokeWidth": 1.8},
    "encoding": {"y2": {"field": "v2"}}},
   {"data": {"values": [{"d":"2014-08-30","v":108.6,"v2":-8.75}]},
    "mark": {"type": "rule", "color": "#111111", "strokeWidth": 2.6},
    "encoding": {"y2": {"field": "v2"}}},
   {"data": {"values": [{"d":"2014-11-22","d2":"2015-05-21","v":105.65}]},
    "mark": {"type": "rule", "color": "#222222", "strokeWidth": 1.8},
    "encoding": {"x2": {"field": "d2"}}},
   {"data": {"values": [{"d":"2015-07-25","v":19.65,"v2":15.4}]},
    "mark": {"type": "rule", "color": "#222222", "strokeWidth": 2},
    "encoding": {"y2": {"field": "v2"}}},
   {"data": {"values": [{"d":"2014-08-30","v":105.3}]},
    "mark": {"type": "point", "shape": "triangle-down", "filled": true, "color": "#111111", "size": 130, "opacity": 1}},
   {"data": {"values": [{"d":"2015-07-25","v":15.0}]},
    "mark": {"type": "point", "shape": "triangle-down", "filled": true, "color": "#222222", "size": 60, "opacity": 1}},
   {"data": {"values": [{"d":"2014-08-30","v":-0.7},{"d":"2015-07-13","v":-0.7},{"d":"2015-11-14","v":-0.7},{"d":"2016-04-15","v":-0.7}]},
    "mark": {"type": "point", "shape": "triangle-up", "filled": true, "color": "#111111", "size": 130, "opacity": 1}},
   {"data": {"values": [{"d":"2014-11-25","v":105.65}]},
    "mark": {"type": "point", "shape": "triangle-left", "filled": true, "color": "#111111", "size": 120, "opacity": 1}},
   {"data": {"values": [{"d":"2015-05-17","v":105.65}]},
    "mark": {"type": "point", "shape": "triangle-right", "filled": true, "color": "#111111", "size": 120, "opacity": 1}},
   {"data": {"values": [{"s":"ASHV-EW","d":"2015-01-07","v":46.30},{"s":"ASHV-NS","d":"2015-01-07","v":41.61},{"s":"ASIV-EW","d":"2015-01-07","v":37.15},{"s":"ASIV-NS","d":"2015-01-07","v":34.37},{"s":"ASTV-NS","d":"2015-01-08","v":27.61},{"s":"ASTV-EW","d":"2015-01-07","v":23.63},{"s":"ASNV-NS","d":"2015-01-22","v":15.12},{"s":"ASNV-EW","d":"2015-01-09","v":10.10},{"s":"ASHV-雨量","d":"2015-02-18","v":4.38}]},
    "mark": {"type": "text", "font": "DejaVu Sans Mono", "fontSize": 20, "align": "center", "baseline": "middle"},
    "encoding": {"text": {"field": "s"},
      "color": {"field": "s", "type": "nominal", "legend": null,
                "scale": {"domain": ["ASHV-EW","ASHV-NS","ASIV-EW","ASIV-NS","ASTV-NS","ASTV-EW","ASNV-NS","ASNV-EW","ASHV-雨量"],
                          "range": ["#3a50c8","#7b3f2a","#e8283c","#9a50c0","#f0a030","#ee8878","#222222","#222222","#ee2244"]}}}},
   {"data": {"values": [{"d":"2014-08-30","v":110.0,"txt":"噴火 14/8/30 9:00"}]},
    "mark": {"type": "text", "font": "Noto Sans CJK JP", "fontSize": 18.5, "color": "#333333", "align": "center", "baseline": "middle"},
    "encoding": {"text": {"field": "txt"}}},
   {"data": {"values": [{"d":"2014-12-31","v":110.1,"txt":"11/25から5/21まで"},{"d":"2014-12-31","v":108.19,"txt":"断続的に噴火"}]},
    "mark": {"type": "text", "font": "Noto Sans CJK JP", "fontSize": 18, "color": "#333333", "align": "left", "baseline": "middle"},
    "encoding": {"text": {"field": "txt"}}},
   {"data": {"values": [{"d":"2014-07-29","v":-9.15,"txt":"日向灘の地震"},{"d":"2015-06-09","v":-9.39,"txt":"日向灘の地震"},{"d":"2015-10-11","v":-9.39,"txt":"薩摩半島西方沖の地震"}]},
    "mark": {"type": "text", "font": "Noto Sans CJK JP", "fontSize": 19, "color": "#333333", "align": "left", "baseline": "middle"},
    "encoding": {"text": {"field": "txt"}}},
   {"data": {"values": [{"d":"2014-07-29","v":-10.98,"txt":"14/8/29 4:14 M=6.0"}]},
    "mark": {"type": "text", "font": "Liberation Sans", "fontSize": 19, "color": "#333333", "align": "left", "baseline": "middle"},
    "encoding": {"text": {"field": "txt"}}},
   {"data": {"values": [{"d":"2015-06-09","v":-11.3,"txt":"15/7/13 15:52  M=4.3"},{"d":"2015-10-11","v":-11.3,"txt":"15/11/14 5:51 M=7.0  D=10km"}]},
    "mark": {"type": "text", "font": "Liberation Sans", "fontSize": 17, "color": "#333333", "align": "left", "baseline": "middle"},
    "encoding": {"text": {"field": "txt"}}},
   {"data": {"values": [{"d":"2016-03-31","v":-6.76,"txt":"熊本地震"},{"d":"2016-03-31","v":-9.15,"txt":"16/4/14"},{"d":"2016-03-31","v":-11.22,"txt":"16/4/16"}]},
    "mark": {"type": "text", "font": "Noto Sans CJK JP", "fontSize": 20, "color": "#333333", "align": "left", "baseline": "middle"},
    "encoding": {"text": {"field": "txt"}}},
   {"data": {"values": [{"d":"2014-10-07","v":-5.81,"txt":"2014"},{"d":"2015-06-02","v":-5.81,"txt":"2015"},{"d":"2016-03-03","v":-5.81,"txt":"2016"}]},
    "mark": {"type": "text", "font": "Liberation Sans", "fontSize": 25, "color": "#333333", "align": "center", "baseline": "middle"},
    "encoding": {"text": {"field": "txt"}}},
   {"data": {"values": [{"d":"2015-08-06","v":18.93,"txt":"時間値"}]},
    "mark": {"type": "text", "font": "Noto Sans CJK JP", "fontSize": 26, "fontWeight": "bold", "color": "#333333", "align": "left", "baseline": "middle"},
    "encoding": {"text": {"field": "txt"}}},
   {"data": {"values": [{"d":"2015-08-13","v":16.47,"txt":"5 μ rad"},{"d":"2015-08-06","v":14.56,"txt":"N,   E   dwn"}]},
    "mark": {"type": "text", "font": "Liberation Sans", "fontSize": 23, "color": "#333333", "align": "left", "baseline": "middle"},
    "encoding": {"text": {"field": "txt"}}}
  ],
  "resolve": {"axis": {"x": "independent", "y": "independent"}}
 }
],
"resolve": {"scale": {"x": "independent", "y": "independent"}, "axis": {"x": "independent", "y": "independent"}}
}
